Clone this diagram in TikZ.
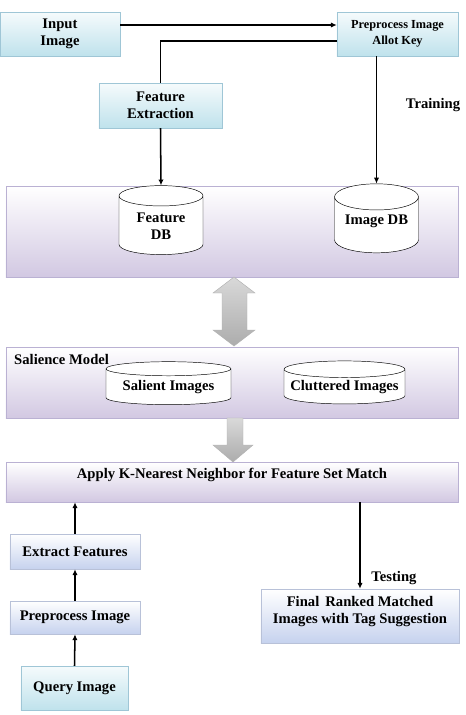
\documentclass[tikz,border=0pt]{standalone}
\usepackage{fontspec}
\setmainfont{Liberation Serif}
\usetikzlibrary{shapes.geometric,shadows,calc,arrows.meta}
\definecolor{boxline}{HTML}{9FC6D6}
\definecolor{cyanlow}{HTML}{BFE2EC}
\definecolor{bluelow}{HTML}{C6D2EE}
\definecolor{panelline}{HTML}{BAB1D3}
\definecolor{panellow}{HTML}{D2C8E2}

\begin{document}
\begin{tikzpicture}[x=0.03cm, y=-0.03cm,
    font=\bfseries\fontsize{12.5}{14.5}\selectfont,
    flow/.style={-{Latex[length=5pt,width=4.5pt]}, line width=1.3pt},
    cyanbox/.style={draw=boxline, top color=white!85!cyanlow, bottom color=cyanlow, align=center, inner sep=2pt,
        drop shadow={opacity=0.3, shadow xshift=0.7pt, shadow yshift=-0.7pt}},
    bluebox/.style={cyanbox, draw=bluelow!80!gray, top color=white, bottom color=bluelow},
    panel/.style={draw=panelline, top color=white, bottom color=panellow, minimum width=13.56cm, inner sep=0pt,
        drop shadow={opacity=0.3, shadow xshift=0.7pt, shadow yshift=-0.7pt}},
    dbase/.style={cylinder, shape border rotate=90, draw, fill=white, align=center, inner sep=1pt},
    blockarrow/.style={draw=gray!60, top color=gray!30, bottom color=gray!65}]
    \useasboundingbox (0,0) rectangle (465,715);

    % Training part
    \node[cyanbox, minimum width=3.6cm, minimum height=1.32cm] (inimg) at (60,34) {Input\\Image};
    \node[cyanbox, minimum width=3.63cm, minimum height=1.32cm, font=\bfseries\fontsize{10.5}{14}\selectfont] (prekey) at (397.5,34) {Preprocess Image\\Allot Key};
    \node[cyanbox, minimum width=3.69cm, minimum height=1.35cm] (featext) at (160.5,105.5) {Feature\\Extraction};
    \node (training) at (433,105) {Training};

    \node[panel, minimum height=2.73cm] (panelA) at (232,231.5) {};
    \node[dbase, minimum width=2.52cm, minimum height=2.07cm, aspect=0.4] (featdb) at (161,226.5) {Feature\\DB};
    \node[dbase, minimum width=2.52cm, minimum height=2.07cm, aspect=0.4, text depth=11pt] (imgdb) at (376.5,226.5) {Image DB};

    \draw[flow] ($(inimg.east)+(0,-9)$) -- ($(prekey.west)+(0,-9)$);
    \draw[line width=1.3pt] ($(prekey.west)+(0,7)$) -| (featext.north);
    \draw[flow] (featext.south) -- (featdb.north);
    \draw[flow] (imgdb.north |- prekey.south) -- (imgdb.north);

    % Salience model
    \draw[blockarrow] (234,277) -- (255,293) -- (247,293) -- (247,330) -- (255,330) -- (234,346)
        -- (213,330) -- (222,330) -- (222,293) -- (213,293) -- cycle;
    \node[panel, minimum height=2.13cm] (panelB) at (232,382.5) {};
    \node[anchor=west, inner sep=0pt] (salmodel) at (14,359.5) {Salience Model};
    \node[dbase, minimum width=3.75cm, minimum height=1.29cm, aspect=0.15] (salient) at (168.5,387.5) {Salient Images};
    \node[dbase, minimum width=3.63cm, minimum height=1.29cm, aspect=0.15] (clutter) at (344.5,387.5) {Cluttered Images};
    \draw[blockarrow] (227,418) -- (243,418) -- (243,445) -- (253,445) -- (233,462) -- (213,445) -- (227,445) -- cycle;

    % Testing part
    \node[panel, minimum height=1.2cm, text depth=15pt] (panelC) at (232,482) {Apply K-Nearest Neighbor for Feature Set Match};
    \node[bluebox, minimum width=3.9cm, minimum height=1.05cm] (extfeat) at (75,551.5) {Extract Features};
    \node[bluebox, minimum width=3.9cm, minimum height=0.99cm] (preimg) at (75,617.5) {Preprocess Image};
    \node[cyanbox, minimum width=3.21cm, minimum height=1.32cm] (query) at (74.5,688) {Query Image};
    \node[bluebox, minimum width=5.94cm, minimum height=1.62cm, text depth=10pt] (final) at (360,616) {Final\, Ranked Matched\\Images with Tag Suggestion};
    \node (testing) at (394,578) {Testing};

    \draw[flow] (query.north) -- (preimg.south);
    \draw[flow] (preimg.north) -- (extfeat.south);
    \draw[flow] (extfeat.north) -- (extfeat.north |- panelC.south);
    \draw[flow] (final.north |- panelC.south) -- (final.north);
\end{tikzpicture}
\end{document}
